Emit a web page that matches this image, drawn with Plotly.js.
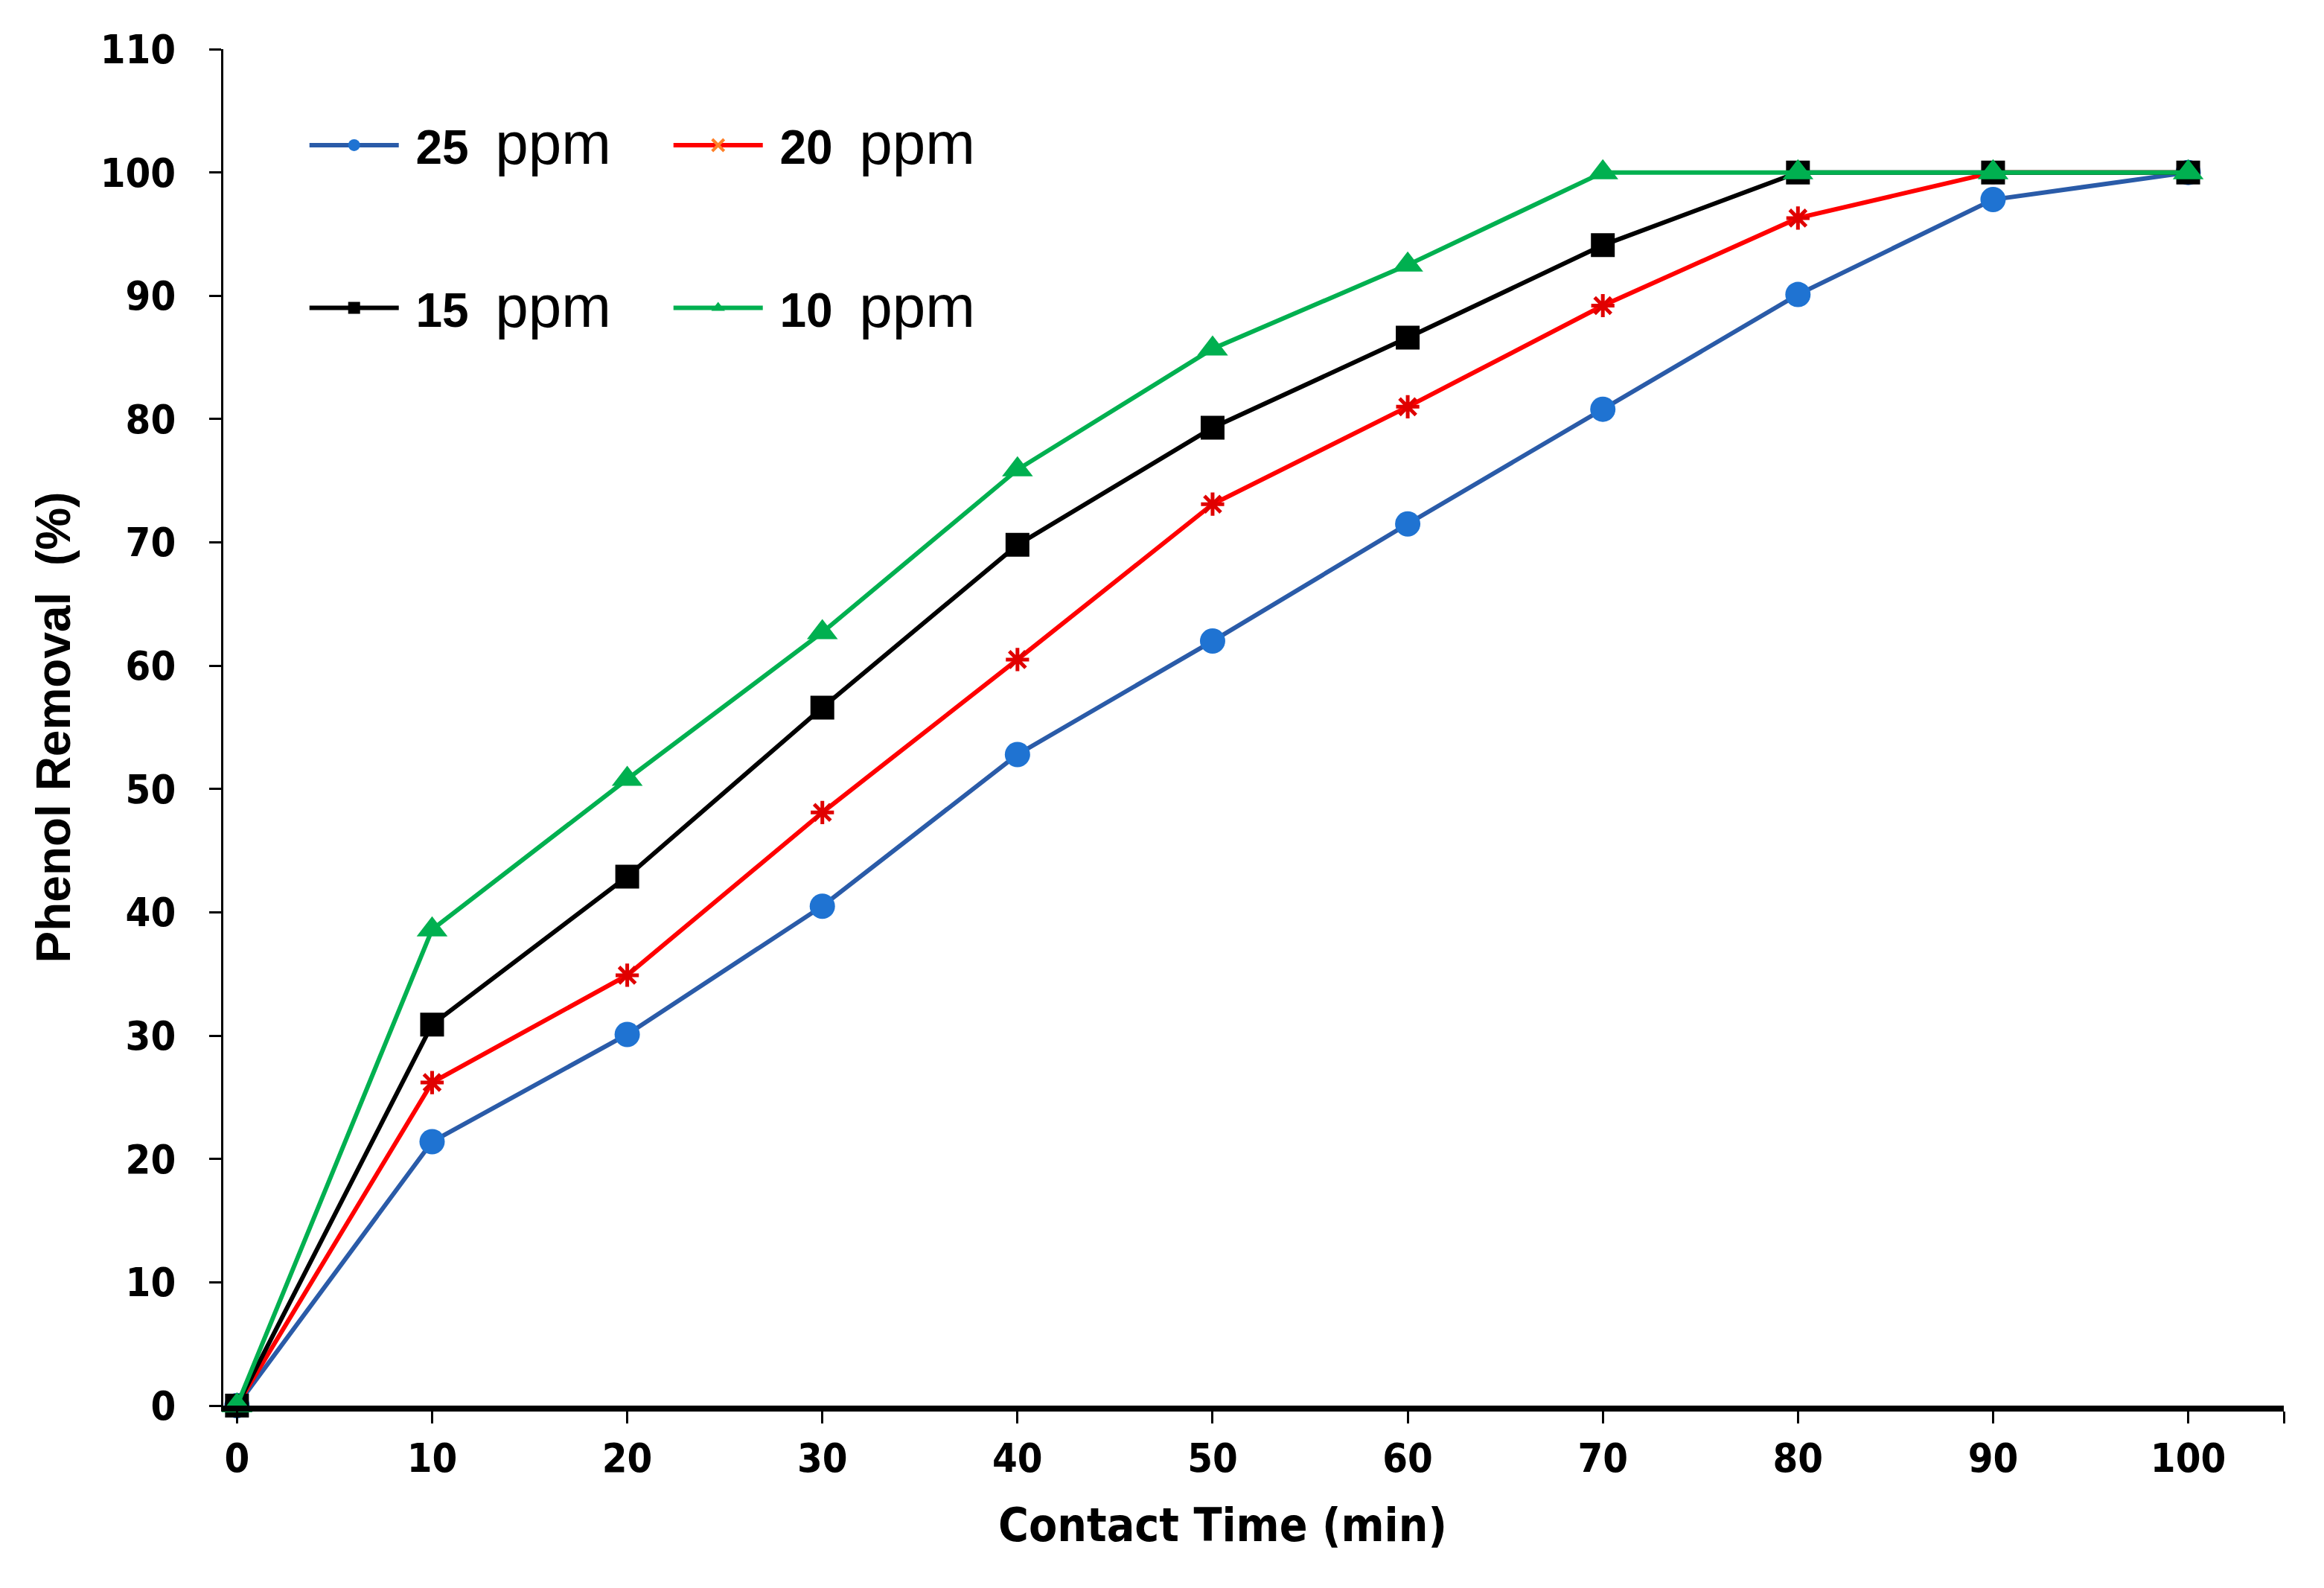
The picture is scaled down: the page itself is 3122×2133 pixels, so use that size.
<!DOCTYPE html>
<html>
<head>
<meta charset="utf-8">
<script src="https://cdn.plot.ly/plotly-3.0.1.min.js"></script>
<style>html,body{margin:0;padding:0;background:#fff;}#chart{width:3122px;height:2133px;}</style>
</head>
<body>
<div id="chart"></div>
<script>
const time = [0, 10, 20, 30, 40, 50, 60, 70, 80, 90, 100];
const ppm25 = [0, 21.4, 30.1, 40.5, 52.8, 62.0, 71.5, 80.8, 90.1, 97.8, 100];
const ppm20 = [0, 26.2, 34.9, 48.1, 60.5, 73.1, 81.0, 89.2, 96.3, 100, 100];
const ppm15 = [0, 30.9, 42.9, 56.6, 69.8, 79.3, 86.6, 94.1, 100, 100, 100];
const ppm10 = [0, 38.6, 50.8, 62.7, 75.9, 85.7, 92.5, 100, 100, 100, 100];
const seriesLabels = ['25', '20', '15', '10'];
const unitLabel = 'ppm';
const xTickVals = [0, 10, 20, 30, 40, 50, 60, 70, 80, 90, 100, 104.9];
const xTickText = ['0', '10', '20', '30', '40', '50', '60', '70', '80', '90', '100', ''];
const yTickVals = [0, 10, 20, 30, 40, 50, 60, 70, 80, 90, 100, 110];
const xTitle = 'Contact Time (min)';
const yTitle = 'Phenol Removal&nbsp; (%)';

function legendName(n) {
  return '&nbsp;<span style="font-size:64px"><b>' + n + '</b></span>&nbsp; <span style="font-size:80px">' + unitLabel + '</span>';
}

const tickFont = {family: 'DejaVu Sans Condensed, DejaVu Sans, sans-serif', size: 54, color: '#000', weight: 'bold'};

const traces = [
  {x: time, y: ppm25, name: legendName(seriesLabels[0]), mode: 'lines+markers', legend: 'legend', legendrank: 1,
   line: {color: '#2a5ba8', width: 6}, marker: {symbol: 'circle', size: 34, color: '#1f73d2'}, cliponaxis: false},
  {x: time, y: ppm20, name: legendName(seriesLabels[1]), mode: 'lines+markers', legend: 'legend', showlegend: false,
   line: {color: '#ff0000', width: 6}, marker: {symbol: 'asterisk-open', size: 26, color: '#e00000', line: {color: '#e00000', width: 5}}, cliponaxis: false},
  {x: time, y: ppm15, name: legendName(seriesLabels[2]), mode: 'lines+markers', legend: 'legend2',
   line: {color: '#000000', width: 6}, marker: {symbol: 'square', size: 32, color: '#000000'}, cliponaxis: false},
  {x: time, y: ppm10, name: legendName(seriesLabels[3]), mode: 'lines+markers', legend: 'legend2',
   line: {color: '#00b050', width: 6}, marker: {symbol: 'triangle-up', size: 36, color: '#00b050'}, cliponaxis: false},
  // legend-only key for the 20 ppm series (red line with orange cross, as in the original key)
  {x: [null], y: [null], name: legendName(seriesLabels[1]), mode: 'lines+markers', legend: 'legend', legendrank: 2,
   line: {color: '#ff0000', width: 6}, marker: {symbol: 'x-thin-open', size: 26, color: '#ff7f27', line: {color: '#ff7f27', width: 4}}}
];

const legendFont = {family: 'Liberation Sans, Arial, sans-serif', size: 64, color: '#000'};

const layout = {
  width: 3122, height: 2133,
  margin: {l: 300, r: 54, t: 66, b: 245},
  paper_bgcolor: '#fff', plot_bgcolor: '#fff',
  xaxis: {
    range: [-0.7, 104.9], tickmode: 'array', tickvals: xTickVals, ticktext: xTickText,
    showgrid: false, zeroline: false, showline: true, linecolor: '#000', linewidth: 8,
    ticks: 'outside', ticklen: 16, tickwidth: 3, tickcolor: '#000',
    tickfont: tickFont
  },
  yaxis: {
    range: [0, 110], tickmode: 'array', tickvals: yTickVals,
    showgrid: false, zeroline: false, showline: true, linecolor: '#000', linewidth: 3,
    ticks: 'outside', ticklen: 16, tickwidth: 3, tickcolor: '#000',
    tickfont: tickFont, ticklabelstandoff: 34,
    title: {text: yTitle, font: {family: 'Liberation Sans, Arial, sans-serif', size: 64, color: '#000', weight: 'bold'}, standoff: 20}
  },
  annotations: [
    {text: xTitle, xref: 'paper', yref: 'paper', x: 0.485, y: -0.088, xanchor: 'center', yanchor: 'middle', showarrow: false,
     font: {family: 'DejaVu Sans Condensed, DejaVu Sans, sans-serif', size: 62, color: '#000', weight: 'bold'}}
  ],
  legend: {orientation: 'h', x: 0.04, y: 0.929, xanchor: 'left', yanchor: 'middle',
    font: legendFont, bgcolor: 'rgba(0,0,0,0)', itemwidth: 120, entrywidth: 354, entrywidthmode: 'pixels',
    traceorder: 'normal'},
  legend2: {orientation: 'h', x: 0.04, y: 0.809, xanchor: 'left', yanchor: 'middle',
    font: legendFont, bgcolor: 'rgba(0,0,0,0)', itemwidth: 120, entrywidth: 354, entrywidthmode: 'pixels',
    traceorder: 'normal'},
  showlegend: true
};

Plotly.newPlot('chart', traces, layout, {staticPlot: true});
</script>
</body>
</html>
